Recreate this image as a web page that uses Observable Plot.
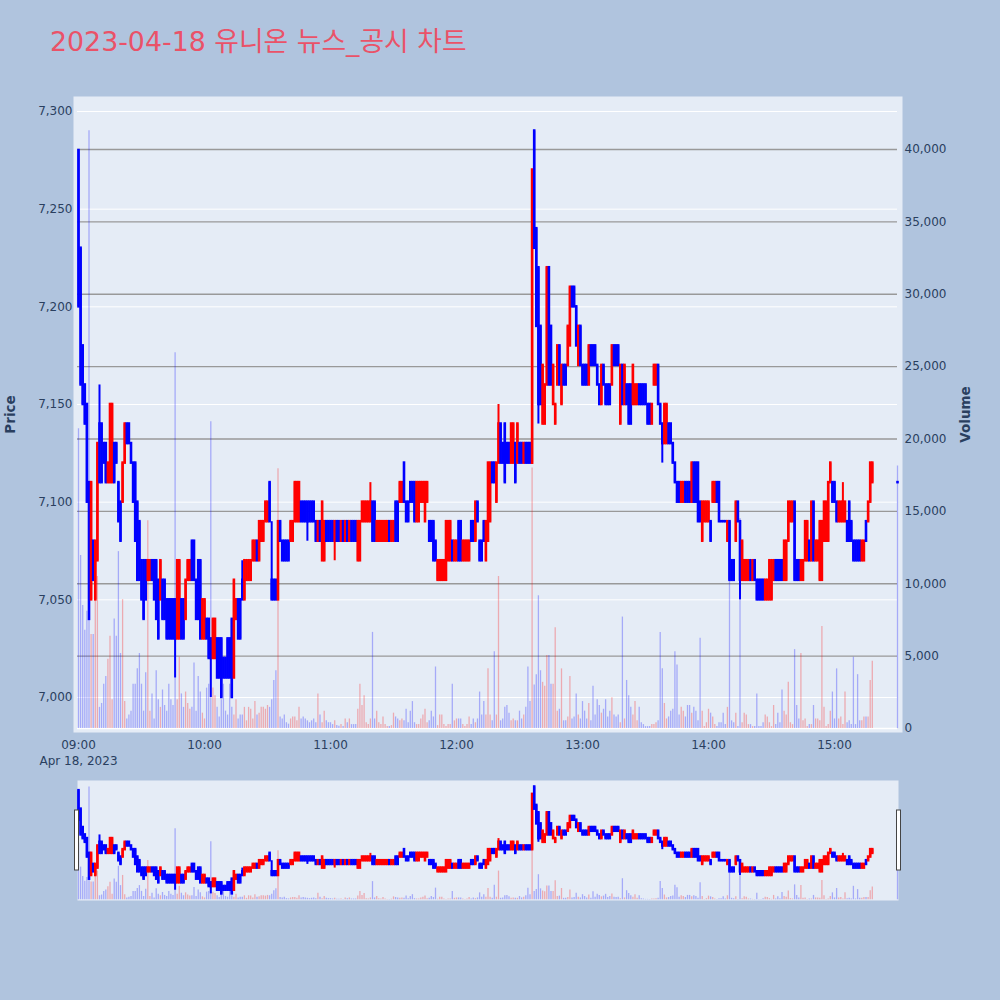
<!DOCTYPE html>
<html><head><meta charset="utf-8">
<script src="https://cdn.jsdelivr.net/npm/d3@7"></script>
<script src="https://cdn.jsdelivr.net/npm/@observablehq/plot@0.6"></script>
<style>
html,body{margin:0;padding:0;background:#B0C4DE;overflow:hidden;}
#wrap{position:relative;width:1000px;height:1000px;}
#wrap svg{position:absolute;left:0;top:0;}
#title{position:absolute;left:50px;top:28px;font-size:26.8px;line-height:27px;font-family:"DejaVu Sans","Noto Sans CJK KR",sans-serif;color:#ea5268;white-space:nowrap;}
</style></head><body><div id="wrap"><div id="title">2023-04-18 유니온 뉴스_공시 차트</div></div>
<script>
// ---------- DATA ----------
const sessionDate = "2023-04-18";
const hourTickLabels = ["09:00","10:00","11:00","12:00","13:00","14:00","15:00"];
const priceTicks = [7000, 7050, 7100, 7150, 7200, 7250, 7300];
const volumeTicks = [0, 5000, 10000, 15000, 20000, 25000, 30000, 35000, 40000];
// minute offsets from 09:00 for each candle (continuous session, then closing auction at 15:30)
const candleMinutes = d3.range(0, 379).concat([390]);
const opens = [
7280,7230,7180,7160,7150,7110,7050,7080,7050,7070,
7140,7140,7130,7130,7110,7110,7110,7130,7130,7110,
7100,7100,7120,7140,7140,7130,7120,7120,7100,7090,
7070,7070,7070,7060,7060,7070,7070,7070,7060,7050,
7060,7060,7050,7050,7050,7050,7050,7030,7030,7050,
7050,7040,7060,7060,7080,7080,7060,7070,7070,7030,
7030,7040,7040,7030,7020,7020,7030,7030,7030,7020,
7020,7030,7030,7040,7010,7040,7050,7050,7060,7050,
7060,7060,7060,7070,7070,7080,7070,7080,7080,7090,
7090,7110,7060,7060,7060,7050,7090,7080,7080,7080,
7080,7080,7080,7090,7090,7090,7100,7100,7100,7100,
7100,7100,7100,7090,7080,7090,7070,7070,7090,7090,
7090,7090,7080,7090,7090,7080,7090,7080,7090,7080,
7090,7090,7090,7070,7070,7090,7090,7090,7090,7090,
7100,7100,7080,7080,7080,7080,7080,7080,7090,7080,
7080,7100,7100,7100,7100,7120,7100,7100,7110,7110,
7110,7090,7090,7100,7100,7090,7100,7090,7090,7090,
7080,7060,7060,7060,7060,7060,7070,7070,7080,7070,
7070,7090,7090,7070,7070,7070,7070,7090,7090,7080,
7100,7080,7080,7090,7070,7080,7090,7120,7120,7100,
7120,7140,7130,7140,7130,7130,7120,7120,7130,7120,
7130,7130,7120,7130,7130,7130,7120,7290,7240,7220,
7190,7140,7140,7160,7220,7190,7150,7140,7160,7180,
7150,7170,7170,7170,7180,7210,7210,7200,7170,7190,
7170,7170,7170,7160,7180,7180,7180,7170,7160,7150,
7170,7160,7160,7160,7160,7180,7180,7180,7140,7170,
7150,7160,7160,7160,7150,7150,7150,7160,7160,7160,
7160,7150,7150,7140,7160,7160,7170,7150,7140,7130,
7130,7140,7140,7130,7120,7110,7110,7100,7100,7110,
7110,7110,7100,7120,7120,7120,7100,7080,7090,7090,
7090,7090,7100,7100,7110,7110,7090,7090,7090,7080,
7090,7070,7070,7080,7100,7090,7060,7060,7060,7060,
7070,7060,7070,7060,7060,7060,7060,7050,7050,7050,
7050,7060,7070,7070,7070,7070,7060,7060,7080,7090,
7090,7100,7070,7070,7060,7060,7070,7070,7080,7070,
7100,7070,7070,7060,7060,7080,7080,7080,7110,7110,
7110,7100,7090,7090,7090,7090,7090,7100,7090,7080,
7080,7080,7080,7070,7070,7090,7090,7100,7110,
7110];
const closes = [
7200,7160,7150,7140,7100,7040,7110,7060,7080,7130,
7110,7110,7120,7110,7120,7150,7150,7110,7120,7090,
7080,7120,7140,7130,7130,7120,7100,7080,7060,7060,
7050,7040,7050,7070,7070,7060,7050,7040,7030,7070,
7040,7040,7030,7030,7030,7030,7030,7070,7070,7030,
7030,7060,7070,7070,7060,7060,7040,7040,7030,7050,
7050,7030,7020,7020,7040,7040,7010,7010,7000,7010,
7010,7010,7010,7000,7060,7050,7030,7030,7050,7070,
7070,7070,7070,7080,7080,7070,7090,7090,7090,7100,
7100,7090,7050,7050,7050,7090,7080,7070,7070,7070,
7070,7090,7090,7110,7110,7110,7090,7090,7090,7090,
7090,7090,7090,7080,7090,7080,7100,7090,7080,7080,
7080,7080,7090,7080,7080,7090,7080,7090,7080,7090,
7080,7080,7080,7090,7090,7100,7100,7100,7100,7100,
7080,7080,7090,7090,7090,7090,7090,7090,7080,7090,
7090,7080,7080,7110,7110,7100,7090,7090,7100,7100,
7090,7110,7110,7110,7110,7110,7110,7080,7080,7070,
7070,7070,7070,7070,7070,7090,7090,7090,7070,7080,
7080,7070,7070,7080,7080,7080,7080,7080,7080,7100,
7090,7070,7070,7080,7090,7120,7120,7110,7110,7120,
7140,7120,7120,7110,7120,7120,7140,7140,7110,7140,
7120,7120,7130,7120,7120,7120,7270,7230,7190,7150,
7150,7170,7160,7220,7160,7160,7170,7150,7180,7160,
7170,7160,7160,7190,7210,7200,7200,7180,7190,7170,
7160,7160,7160,7180,7170,7170,7170,7160,7150,7170,
7160,7150,7150,7150,7180,7170,7170,7170,7170,7150,
7170,7150,7140,7140,7170,7160,7160,7150,7150,7150,
7150,7140,7140,7150,7170,7170,7150,7140,7130,7150,
7150,7130,7130,7120,7110,7100,7100,7110,7110,7100,
7100,7100,7120,7100,7100,7090,7090,7100,7100,7100,
7100,7080,7110,7110,7100,7090,7090,7090,7090,7090,
7060,7060,7060,7100,7090,7060,7080,7070,7070,7070,
7060,7070,7060,7050,7050,7050,7050,7060,7060,7070,
7070,7070,7060,7060,7060,7060,7080,7080,7100,7100,
7100,7060,7060,7060,7070,7070,7090,7090,7070,7100,
7070,7080,7080,7090,7090,7100,7100,7110,7120,7100,
7100,7090,7100,7100,7100,7100,7080,7080,7080,7070,
7070,7070,7070,7080,7080,7080,7100,7120,7120,
7110];
// [minute, price] wick extremes beyond the body
const highAt = [[10,7160],[78,7070],[92,7090],[139,7110],[200,7150],[364,7110]];
const lowAt = [[46,7010],[63,7000],[109,7080],[122,7070],[219,7140],[278,7120],[315,7050]];
const volumes = [
20700,11950,8500,6780,8100,41300,6500,6500,8900,10500,
1460,1730,3060,3590,4780,6380,1990,7570,6380,12220,
5180,8900,1860,660,930,1200,3060,3060,4120,5180,
3060,1200,3850,14350,1200,2390,660,3990,1990,1460,
2660,1590,1200,3060,1990,1590,25960,1990,4920,2390,
1460,2520,1720,1330,1460,4520,1200,3590,2520,1060,
660,2790,3060,21200,2790,2260,1460,800,1990,3060,
1200,930,3060,1460,930,1990,660,930,930,1460,
530,1460,1330,660,1860,930,1060,1460,1460,1330,
1590,1460,1990,3320,3990,17940,800,660,930,400,
300,660,800,800,530,1460,660,800,660,530,
400,530,660,400,2390,930,400,1200,530,400,
400,270,530,200,150,270,130,660,400,660,
270,270,270,1330,3060,1590,2260,400,270,660,
6640,660,1200,400,270,800,270,130,130,200,
1060,800,660,530,660,530,1330,400,1200,1860,
400,270,270,660,930,1330,400,530,1200,800,
4250,200,930,930,270,130,270,270,3060,530,
660,660,660,270,130,270,800,270,660,400,
660,2520,930,1860,930,4120,930,530,5310,930,
10500,530,660,1460,1590,1060,530,660,530,530,
1200,660,930,1460,4250,1860,18000,3000,3720,9170,
3990,3190,2920,5050,5050,3060,3060,6960,1200,1330,
4120,530,530,800,3590,660,800,2390,930,660,
1860,1200,660,1730,530,2920,930,1990,1590,1060,
1330,1990,800,1200,2130,930,800,930,400,7700,
660,3320,2260,1460,930,1860,530,1460,400,270,
130,130,130,270,270,400,530,6640,4120,1730,
660,800,1200,1330,5310,4380,930,1460,1200,800,
1590,1590,1060,1460,1200,530,6240,1200,130,400,
1330,1060,800,270,130,400,400,1060,270,1460,
10230,530,400,1060,130,14500,400,1060,930,270,
270,130,130,2390,130,130,400,930,800,400,
130,1590,270,1060,400,2660,1200,930,3190,400,
270,5450,1590,660,5180,530,660,130,270,270,
1590,660,660,530,7040,1460,130,270,1200,2520,
660,4120,660,800,270,2520,400,530,270,4920,
270,3720,530,530,800,800,800,3320,4650,
18130];

// ---------- BUILD ----------
const T0 = Date.parse(sessionDate + "T09:00:00Z");
const MIN = 60000;
const highMap = new Map(highAt), lowMap = new Map(lowAt);
const rows = candleMinutes.map((m, i) => {
  const o = opens[i], c = closes[i];
  const prev = i > 0 ? closes[i - 1] : o;
  let h = Math.max(o, c), l = Math.min(o, c);
  if (highMap.has(m)) h = Math.max(h, highMap.get(m));
  if (lowMap.has(m)) l = Math.min(l, lowMap.get(m));
  const up = c > o || (c === o && c > prev);
  return {t: new Date(T0 + m * MIN), o, c, h, l, v: volumes[i], col: up ? "#ff0000" : "#0000ff"};
});
const hourTicks = hourTickLabels.map(s => new Date(Date.parse(sessionDate + "T" + s + ":00Z")));
const xDomain = [new Date(T0 - 2.381 * MIN), new Date(T0 + 392.38 * MIN)];
const priceDomain = [6982.08, 7307.68];
const volDomain = [-276, 43661];
const fmtComma = d3.format(",");
const fmtHM = d3.utcFormat("%H:%M");

const baseStyle = {background: "transparent", fontFamily: "'DejaVu Sans', sans-serif", fontSize: "12px", color: "#2a3f5f", overflow: "visible"};
function layer(top, bottom, yDomain, marks) {
  return Plot.plot({
    width: 1000, height: 1000,
    marginLeft: 73, marginRight: 98, marginTop: top, marginBottom: bottom,
    style: baseStyle,
    x: {type: "utc", domain: xDomain, axis: null},
    y: {domain: yDomain, axis: null},
    color: {type: "identity"},
    marks
  });
}
const wrap = document.getElementById("wrap");

// main: background + price grid
wrap.appendChild(layer(96, 268, priceDomain, [
  Plot.frame({fill: "#E5ECF6", stroke: null}),
  Plot.ruleY(priceTicks, {stroke: "white", strokeWidth: 1, insetLeft: 4, insetRight: 5})
]));
// main: volume grid, bars, right axis
wrap.appendChild(layer(96, 268, volDomain, [
  Plot.ruleY(volumeTicks.filter(d => d > 0), {stroke: "#999999", strokeWidth: 1.3, insetLeft: 4, insetRight: 5}),
  Plot.ruleY([0], {stroke: "white", strokeWidth: 1.5, insetLeft: 4, insetRight: 5}),
  Plot.ruleX(rows, {x: "t", y1: d => 0, y2: "v", stroke: "col", strokeOpacity: 0.28, strokeWidth: 1.3}),
  Plot.axisY(volumeTicks, {anchor: "right", tickSize: 0, tickPadding: 2, tickFormat: fmtComma, label: null}),
  Plot.text(["Volume"], {frameAnchor: "right", dx: 63, rotate: -90, textAnchor: "middle", fontWeight: "bold", fontSize: 13.5, fill: "#2a3f5f"})
]));
// main: candles and axes
wrap.appendChild(layer(96, 268, priceDomain, [
  Plot.ruleX(rows, {x: "t", y1: "l", y2: "h", stroke: "col", strokeWidth: 2}),
  Plot.ruleX(rows, {x: "t", y1: "o", y2: "c", stroke: "col", strokeWidth: 2.6, strokeLinecap: "square"}),
  Plot.axisY(priceTicks, {anchor: "left", tickSize: 0, tickPadding: 1, tickFormat: fmtComma, label: null}),
  Plot.axisX(hourTicks, {anchor: "bottom", tickSize: 0, tickPadding: 5, lineHeight: 1.35, label: null,
    tickFormat: d => d.getTime() === T0 ? fmtHM(d) + "\nApr 18, 2023" : fmtHM(d)}),
  Plot.text(["Price"], {frameAnchor: "left", dx: -63, rotate: -90, textAnchor: "middle", fontWeight: "bold", fontSize: 13.5, fill: "#2a3f5f"})
]));
// range slider: background + volume
wrap.appendChild(layer(780, 100, volDomain, [
  Plot.frame({fill: "#E5ECF6", stroke: null, insetLeft: 4, insetRight: 4}),
  Plot.ruleX(rows, {x: "t", y1: d => 0, y2: "v", stroke: "col", strokeOpacity: 0.28, strokeWidth: 1.3})
]));
// range slider: candles + handles
const mini = layer(780, 100, priceDomain, [
  Plot.ruleX(rows, {x: "t", y1: "l", y2: "h", stroke: "col", strokeWidth: 2}),
  Plot.ruleX(rows, {x: "t", y1: "o", y2: "c", stroke: "col", strokeWidth: 2.6, strokeLinecap: "square"})
]);
wrap.appendChild(mini);
{
  const xr = mini.scale("x").range, yr = mini.scale("y").range;
  const mid = (yr[0] + yr[1]) / 2;
  const g = d3.select(mini).append("g");
  [xr[0] + 1.5, xr[1] - 5.5].forEach(x => {
    g.append("rect").attr("x", x).attr("y", mid - 30).attr("width", 4).attr("height", 60)
      .attr("fill", "white").attr("stroke", "#444").attr("stroke-width", 1);
  });
}
</script></body></html>
